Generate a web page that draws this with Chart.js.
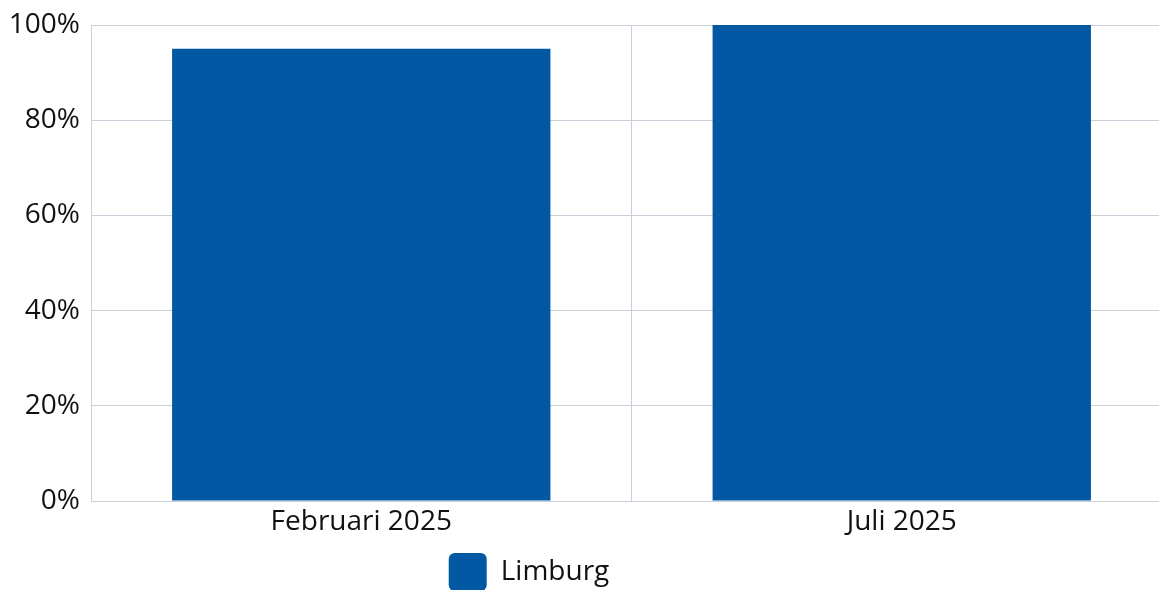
<!DOCTYPE html>
<html>
<head>
<meta charset="utf-8">
<script src="https://cdn.jsdelivr.net/npm/chart.js@4/dist/chart.umd.min.js"></script>
<style>
  html,body{margin:0;padding:0;overflow:hidden;background:#fff;}
  #wrap{position:relative;width:1172px;height:601px;}
</style>
</head>
<body>
<div id="wrap"><canvas id="barChart"></canvas></div>
<script>
const labels = ["Februari 2025", "Juli 2025"];
const limburg = [95, 100];
const yTicks = [0, 20, 40, 60, 80, 100];

const font = { family: "'Open Sans', 'Noto Sans', sans-serif", size: 28 };
const gridColor = "#c9d0da";

// legend sits a bit left of centre in the reference
const shiftLegend = {
  id: "shiftLegend",
  afterLayout(chart){
    const l = chart.legend;
    if(!l) return;
    l.left -= 57;
    l.right -= 57;
  }
};

new Chart(document.getElementById("barChart"), {
  type: "bar",
  data: {
    labels: labels,
    datasets: [{
      label: "Limburg",
      data: limburg,
      backgroundColor: "#0358a4",
      borderWidth: 0,
      categoryPercentage: 1,
      barPercentage: 0.7
    }]
  },
  options: {
    responsive: true,
    maintainAspectRatio: false,
    animation: false,
    layout: { padding: { top: 0, left: 0, right: 0, bottom: 0 } },
    plugins: {
      legend: {
        position: "bottom",
        labels: {
          font: font,
          color: "#111",
          boxWidth: 38,
          boxHeight: 38,
          padding: 10,
          useBorderRadius: true,
          borderRadius: 6
        }
      },
      tooltip: { enabled: false }
    },
    scales: {
      x: {
        grid: { color: gridColor, drawTicks: false, offset: true },
        border: { color: gridColor },
        ticks: { font: { ...font, lineHeight: 1.0 }, color: "#111", padding: 7 }
      },
      y: {
        min: 0,
        max: 100,
        afterBuildTicks(scale){ scale.ticks = yTicks.map(v => ({ value: v })); },
        afterFit(scale){ scale.width = 91; },
        grid: { color: gridColor, drawTicks: false },
        border: { color: gridColor },
        ticks: {
          font: { ...font, lineHeight: 1.0 },
          color: "#111",
          padding: 11,
          callback: v => v + "%"
        }
      }
    }
  },
  plugins: [shiftLegend]
});
</script>
</body>
</html>
